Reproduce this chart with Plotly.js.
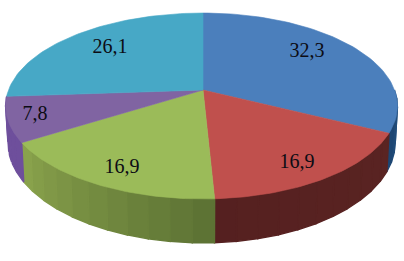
<!DOCTYPE html>
<html>
<head>
<meta charset="utf-8">
<script src="https://cdn.plot.ly/plotly-3.0.0.min.js"></script>
<style>html,body{margin:0;padding:0;background:#fff}#c{width:404px;height:261px}</style>
</head>
<body>
<div id="c"></div>
<script>
var categories = ['A', 'B', 'C', 'D', 'E'];
var values = [32.3, 16.9, 16.9, 7.8, 26.1];
var labelX = [307, 297, 122, 35, 110];
var labelY = [52, 163, 168, 115, 48];
var topColors = ['#4b7fbc', '#c0504d', '#9bbb59', '#8064a2', '#47a8c6'];
var sideFrom = ['#2a5a8c', '#5a2422', '#8ba44d', '#6e4f9c', '#6e4f9c'];
var sideTo = ['#1c4470', '#552020', '#5b7133', '#6e4f9c', '#6e4f9c'];

var total = values.reduce(function (a, b) { return a + b; }, 0);
function proj(deg, plane) {
  var t = deg * Math.PI / 180, u = Math.sin(t), v = -Math.cos(t), w = 1 - 0.172 * v;
  var skew = -1.5 * Math.abs(u);
  if (plane === 'top') return [203 + skew + 193 * u / w, 90 + 90.2 * v / w];
  return [203 + skew + 190.8 * u / w, 125 + 97.6 * v / w];
}
function hex(c) { return [1, 3, 5].map(function (i) { return parseInt(c.substr(i, 2), 16); }); }
function mix(a, b, f) {
  var p = hex(a), q = hex(b);
  return 'rgb(' + p.map(function (x, i) { return Math.round(x + (q[i] - x) * f); }).join(',') + ')';
}
function poly(pts, color, lw) {
  return { type: 'scatter', mode: 'lines', x: pts.map(function (p) { return p[0]; }), y: pts.map(function (p) { return p[1]; }),
    fill: 'toself', fillcolor: color, line: { color: color, width: lw }, hoverinfo: 'skip', showlegend: false };
}
var traces = [], tops = [], acc = 0;
values.forEach(function (val, i) {
  var a0 = acc / total * 360, a1 = (acc + val) / total * 360;
  acc += val;
  var pts = [[203, 90]];
  for (var k = 0; k <= 60; k++) pts.push(proj(a0 + (a1 - a0) * k / 60, 'top'));
  pts.push([203, 90]);
  tops.push(poly(pts, topColors[i], 0.6));
  // the wall of the last slice is hidden behind the purple one: it sits on the far side of the silhouette
  if (i === values.length - 1) return;
  var s0 = Math.max(a0, 90), s1 = Math.min(a1, 270);
  if (s1 > s0) {
    var n = Math.ceil((s1 - s0) / 6);
    for (var b = 0; b < n; b++) {
      var p0 = s0 + (s1 - s0) * b / n, p1 = s0 + (s1 - s0) * (b + 1) / n;
      var f = (i === 2) ? 1 - (b + 0.5) / n : (b + 0.5) / n;
      var wall = [];
      for (var m = 0; m <= 6; m++) wall.push(proj(p0 + (p1 - p0) * m / 6, 'top'));
      for (m = 6; m >= 0; m--) wall.push(proj(p0 + (p1 - p0) * m / 6, 'bottom'));
      wall.push(wall[0]);
      traces.push(poly(wall, mix(sideFrom[i], sideTo[i], f), 1.4));
    }
  }
});
var labels = {
  type: 'scatter', mode: 'text', x: labelX, y: labelY,
  text: values.map(function (v) { return v.toFixed(1).replace('.', ','); }),
  textposition: 'middle center',
  textfont: { family: '"Liberation Serif", serif', size: 20, color: '#0c0c14' },
  hoverinfo: 'skip', showlegend: false
};
var layout = {
  width: 404, height: 261, margin: { l: 0, r: 0, t: 0, b: 0 },
  paper_bgcolor: '#fff', plot_bgcolor: '#fff', showlegend: false,
  xaxis: { range: [0, 404], visible: false, fixedrange: true },
  yaxis: { range: [261, 0], visible: false, fixedrange: true }
};
Plotly.newPlot('c', traces.concat(tops, [labels]), layout, { displayModeBar: false, staticPlot: true });
</script>
</body>
</html>
